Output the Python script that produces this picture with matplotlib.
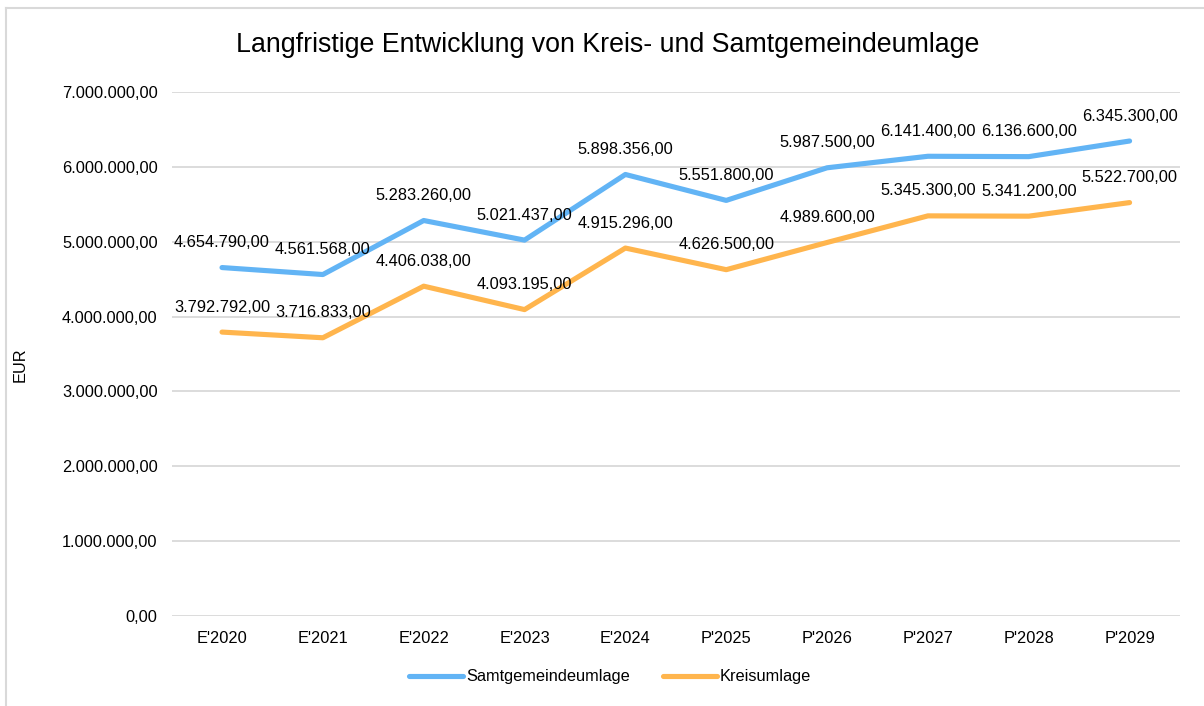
import matplotlib.pyplot as plt
from matplotlib.lines import Line2D
from matplotlib.ticker import FuncFormatter

plt.rcParams['font.family'] = ['Liberation Sans', 'DejaVu Sans']

years = ["E'2020", "E'2021", "E'2022", "E'2023", "E'2024",
         "P'2025", "P'2026", "P'2027", "P'2028", "P'2029"]
samtgemeinde = [4654790.00, 4561568.00, 5283260.00, 5021437.00, 5898356.00,
                5551800.00, 5987500.00, 6141400.00, 6136600.00, 6345300.00]
kreis = [3792792.00, 3716833.00, 4406038.00, 4093195.00, 4915296.00,
         4626500.00, 4989600.00, 5345300.00, 5341200.00, 5522700.00]

blue = '#62B4F5'
orange = '#FFB54D'
fs = 11.8


def de_fmt(v, pos=None):
    s = '{:,.2f}'.format(v)
    return s.replace(',', 'X').replace('.', ',').replace('X', '.')


fig = plt.figure(figsize=(12.04, 7.06), dpi=100)
ax = fig.add_axes([171.6 / 1204, 1 - 616 / 706, (1180 - 171.6) / 1204, (616 - 92) / 706])

x = list(range(len(years)))
ax.plot(x, samtgemeinde, color=blue, lw=3.7, solid_capstyle='round',
        solid_joinstyle='round', label='Samtgemeindeumlage', zorder=3)
ax.plot(x, kreis, color=orange, lw=3.7, solid_capstyle='round',
        solid_joinstyle='round', label='Kreisumlage', zorder=3)

for series in (samtgemeinde, kreis):
    for xi, v in zip(x, series):
        ax.annotate(de_fmt(v), (xi, v), xytext=(0, 25), textcoords='offset pixels',
                    ha='center', va='center', fontsize=fs, color='#000000', zorder=4)

ax.set_xlim(-0.5, len(years) - 0.5)
ax.set_ylim(0, 7000000)
ax.set_yticks(range(0, 7000001, 1000000))
ax.yaxis.set_major_formatter(FuncFormatter(de_fmt))
ax.set_xticks(x)
ax.set_xticklabels(years)
ax.tick_params(axis='both', length=0, labelsize=fs, colors='#000000')
ax.tick_params(axis='y', pad=10)
ax.tick_params(axis='x', pad=11)
ax.grid(axis='y', color='#D9D9D9', lw=1.3)
ax.set_axisbelow(True)
for s in ax.spines.values():
    s.set_visible(False)

fig.text(20 / 1204, 1 - 365 / 706, 'EUR', rotation=90, ha='center', va='center', fontsize=fs)

fig.text(0.505, 1 - 45 / 706, 'Langfristige Entwicklung von Kreis- und Samtgemeindeumlage',
         ha='center', va='center', fontsize=19.3)

leg = fig.legend(loc='center', bbox_to_anchor=(610 / 1204, 1 - 677 / 706), ncol=2,
                 frameon=False, fontsize=fs, handlelength=3.3, columnspacing=2.0,
                 handletextpad=0.2)

# chart border (left and top only visible)
fig.add_artist(Line2D([6 / 1204, 6 / 1204], [0, 1 - 8 / 706], color='#D9D9D9', lw=1.5))
fig.add_artist(Line2D([6 / 1204, 1], [1 - 8 / 706, 1 - 8 / 706], color='#D9D9D9', lw=1.5))

fig.savefig('out.png', dpi=100)
